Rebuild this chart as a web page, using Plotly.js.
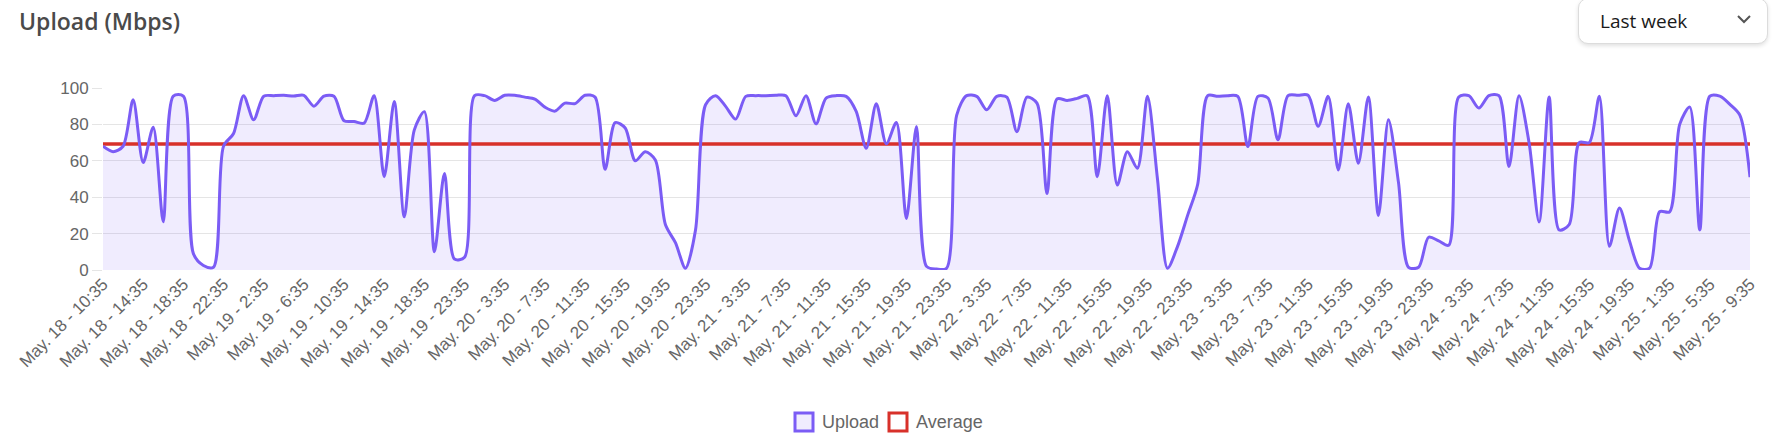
<!DOCTYPE html>
<html>
<head>
<meta charset="utf-8">
<script src="https://cdn.plot.ly/plotly-3.0.1.min.js"></script>
<style>
  html, body { margin: 0; padding: 0; background: #ffffff; }
  #wrap { position: relative; width: 1788px; height: 442px; overflow: hidden; }
  #chart { position: absolute; left: 0; top: 0; width: 1788px; height: 442px; }
  #range {
    position: absolute; left: 1578px; top: -2px; width: 190px; height: 46px;
    border: 1px solid #dcdcdc; border-radius: 10px; background: #fff;
    box-shadow: 0 2px 4px rgba(0,0,0,0.12);
    font-family: "Open Sans", sans-serif; font-size: 19px; color: #1a1a1a;
    box-sizing: border-box;
  }
  #range span { position: absolute; left: 21px; top: 9px; }
  #range svg { position: absolute; left: 157px; top: 14px; }
</style>
</head>
<body>
<div id="wrap">
  <div id="chart"></div>
  <div id="range"><span>Last week</span>
    <svg width="16" height="12" viewBox="0 0 16 12"><polyline points="2,3 8,9 14,3" fill="none" stroke="#555" stroke-width="2"/></svg>
  </div>
</div>
<script>
// ---- data ----
const chartTitle = "Upload (Mbps)";
const seriesNames = ["Upload", "Average"];
const xLabels = [
  "May. 18 - 10:35", "May. 18 - 14:35", "May. 18 - 18:35", "May. 18 - 22:35",
  "May. 19 - 2:35", "May. 19 - 6:35", "May. 19 - 10:35", "May. 19 - 14:35",
  "May. 19 - 18:35", "May. 19 - 23:35", "May. 20 - 3:35", "May. 20 - 7:35",
  "May. 20 - 11:35", "May. 20 - 15:35", "May. 20 - 19:35", "May. 20 - 23:35",
  "May. 21 - 3:35", "May. 21 - 7:35", "May. 21 - 11:35", "May. 21 - 15:35",
  "May. 21 - 19:35", "May. 21 - 23:35", "May. 22 - 3:35", "May. 22 - 7:35",
  "May. 22 - 11:35", "May. 22 - 15:35", "May. 22 - 19:35", "May. 22 - 23:35",
  "May. 23 - 3:35", "May. 23 - 7:35", "May. 23 - 11:35", "May. 23 - 15:35",
  "May. 23 - 19:35", "May. 23 - 23:35", "May. 24 - 3:35", "May. 24 - 7:35",
  "May. 24 - 11:35", "May. 24 - 15:35", "May. 24 - 19:35", "May. 25 - 1:35",
  "May. 25 - 5:35", "May. 25 - 9:35"
];
const uploadMbps = [
  68, 65, 68, 93.5, 59, 78.5, 26.5, 95.5, 95.5, 9,
  2.5, 1.5, 68, 75, 95.8, 82.5, 95.5, 95.8, 96, 95.6,
  96, 90, 95.5, 95.5, 82, 81.6, 80.7, 95.8, 51.3, 92.6,
  29.2, 77, 87, 10, 53, 6, 7, 95.8, 95.8, 93.2,
  96, 96, 95, 93.9, 89.5, 87.3, 91.7, 91.4, 96, 95,
  55.3, 81, 78, 60, 65, 60.5, 25, 15, 1, 22,
  90.8, 95.8, 89.9, 82.9, 95.4, 95.8, 95.8, 96, 95.8, 84.7,
  95.8, 80.3, 94.5, 95.8, 95.4, 87.1, 66.9, 91.4, 69.3, 81,
  28.3, 78.9, 2, 0.5, 1, 85, 95.8, 95.4, 88, 95.4,
  95, 76, 95, 91.7, 42, 94, 93.2, 94.3, 95.8, 51.3,
  95.8, 46.7, 65, 55.9, 95.4, 50, 1, 13, 30, 47,
  95.8, 95.4, 95.8, 95.4, 67.8, 95.4, 94.5, 71.5, 95.8, 96,
  96, 79, 95.4, 55, 91.4, 58.6, 95, 30, 82.5, 48,
  1.5, 1.5, 18, 16, 13.6, 95, 95.8, 89, 95.8, 95.8,
  56.8, 95.8, 70, 26.4, 95, 22, 25, 70, 70, 95.5,
  13, 34, 16, 1, 1, 32, 32, 80, 89.5, 22,
  95.5, 95.5, 91, 85, 51
];
const averageMbps = 69.2;
const yTicks = [0, 20, 40, 60, 80, 100];

// ---- build ----
const pointsPerLabel = 4;
const xIdx = uploadMbps.map((_, i) => i);
const avgArr = uploadMbps.map(() => averageMbps);
const tickPos = xLabels.map((_, k) => k * pointsPerLabel);

const W = 1788, H = 442;
const M = {l: 103, r: 38, t: 88, b: 172};
const PW = W - M.l - M.r, PH = H - M.t - M.b;
const px = x => (x - M.l) / PW;
const py = y => (H - M.b - y) / PH;

const purple = "#7b5cf5";
const lavender = "rgba(123, 92, 245, 0.115)";
const red = "#d8312a";
const tickFont = {family: "Liberation Sans, Arial, sans-serif", size: 17, color: "#666666"};
const legendFont = {family: "Liberation Sans, Arial, sans-serif", size: 18, color: "#666666"};

const traces = [
  {x: xIdx, y: uploadMbps, type: "scatter", mode: "lines", name: seriesNames[0],
   line: {color: "rgba(0,0,0,0)", width: 0, shape: "spline", smoothing: 0.8},
   fill: "tozeroy", fillcolor: lavender, hoverinfo: "skip", showlegend: false},
  {x: xIdx, y: avgArr, type: "scatter", mode: "lines", name: seriesNames[1],
   line: {color: red, width: 3.5}, showlegend: false},
  {x: xIdx, y: uploadMbps, type: "scatter", mode: "lines", name: seriesNames[0],
   line: {color: purple, width: 3, shape: "spline", smoothing: 0.8}, showlegend: false}
];

// legend (drawn boxes + text)
const legY = 422, box = 18;
const legendItems = [
  {x0: 795, fill: lavender, stroke: purple, textX: 820, text: seriesNames[0]},
  {x0: 889, fill: "#ffffff", stroke: red, textX: 914, text: seriesNames[1]}
];
const shapes = legendItems.map(it => ({
  type: "rect", xref: "paper", yref: "paper",
  x0: px(it.x0), x1: px(it.x0 + box), y0: py(legY + box / 2), y1: py(legY - box / 2),
  fillcolor: it.fill, line: {color: it.stroke, width: 3}, layer: "above"
}));
const annotations = legendItems.map(it => ({
  xref: "paper", yref: "paper", x: px(it.textX), y: py(legY),
  xanchor: "left", yanchor: "middle", showarrow: false, text: it.text,
  font: legendFont
}));

const layout = {
  width: W, height: H,
  margin: M,
  paper_bgcolor: "#ffffff", plot_bgcolor: "#ffffff",
  showlegend: false,
  title: {
    text: chartTitle, xref: "container", yref: "container",
    x: 19 / W, xanchor: "left", y: 1 - 22 / H, yanchor: "middle",
    font: {family: "Open Sans, sans-serif", size: 23, weight: 600, color: "#4a4a4a"}
  },
  xaxis: {
    range: [0, uploadMbps.length - 1], tickmode: "array", tickvals: tickPos, ticktext: xLabels,
    tickangle: -45, showgrid: false, zeroline: false, showline: false, ticks: "",
    tickfont: tickFont, fixedrange: true
  },
  yaxis: {
    range: [0, 100], tickmode: "array", tickvals: yTicks,
    showgrid: true, gridcolor: "rgba(0,0,0,0.1)", gridwidth: 1,
    zeroline: false, showline: false, ticks: "outside", ticklen: 10,
    tickcolor: "rgba(0,0,0,0.1)", tickfont: tickFont, fixedrange: true
  },
  shapes: shapes,
  annotations: annotations
};

Plotly.newPlot("chart", traces, layout, {displayModeBar: false, staticPlot: true});
</script>
</body>
</html>
